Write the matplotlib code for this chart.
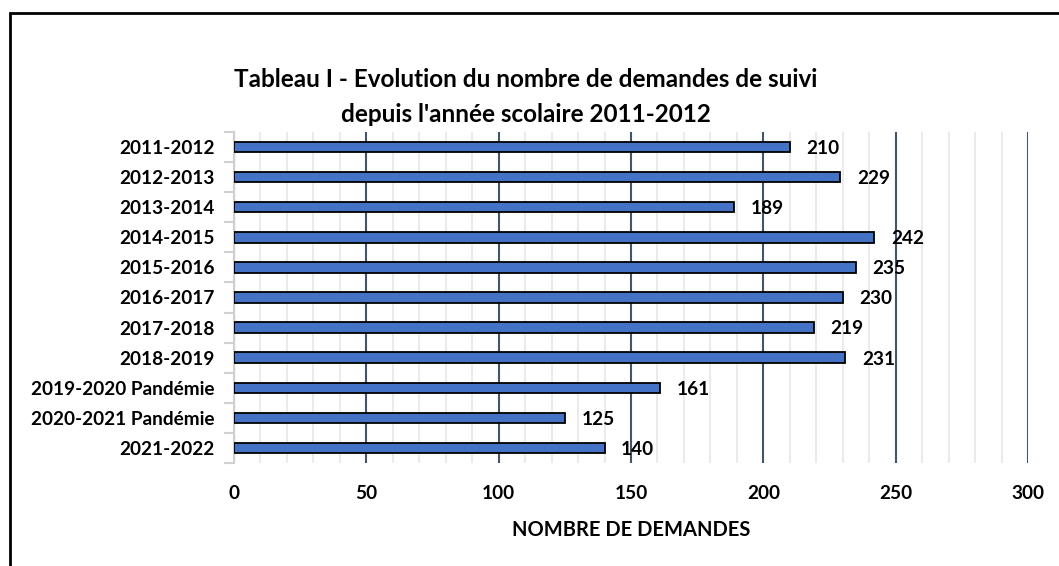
import matplotlib
matplotlib.use("Agg")
import matplotlib.pyplot as plt
from matplotlib.ticker import MultipleLocator
from matplotlib.patches import Rectangle

plt.rcParams['font.family'] = ['Lato', 'DejaVu Sans']

categories = ["2011-2012", "2012-2013", "2013-2014", "2014-2015", "2015-2016",
              "2016-2017", "2017-2018", "2018-2019", "2019-2020 Pandémie",
              "2020-2021 Pandémie", "2021-2022"]
values = [210, 229, 189, 242, 235, 230, 219, 231, 161, 125, 140]
title = "Tableau I - Evolution du nombre de demandes de suivi\ndepuis l'année scolaire 2011-2012"
xlabel = "NOMBRE DE DEMANDES"

FS = 13.7
W, H = 1059, 566
fig = plt.figure(figsize=(W / 100, H / 100), dpi=100)
ax = fig.add_axes([234 / W, 1 - 463 / H, (1028 - 234) / W, (463 - 132) / H])

y = list(range(len(categories)))
ax.barh(y, values, height=0.35, color="#4472C4", edgecolor="black", linewidth=1.3, zorder=3)
ax.set_ylim(10.5, -0.5)
ax.set_xlim(0, 300)
ax.set_yticks(y)
ax.set_yticklabels(categories, fontsize=FS, fontweight="bold")

ax.xaxis.set_major_locator(MultipleLocator(50))
ax.xaxis.set_minor_locator(MultipleLocator(10))
ax.grid(axis="x", which="major", color="#44546A", linewidth=1.5, zorder=1)
ax.grid(axis="x", which="minor", color="#EBEBEB", linewidth=1.5, zorder=0)
ax.tick_params(axis="x", which="both", length=0, labelsize=FS, pad=16)
for lab in ax.get_xticklabels():
    lab.set_fontweight("bold")
ax.set_yticks([i + 0.5 for i in range(-1, len(categories))], minor=True)
ax.tick_params(axis="y", which="minor", length=7, color="#D0D0D0", width=1.5)
ax.tick_params(axis="y", which="major", length=0, pad=14)

for s in ["top", "right", "bottom"]:
    ax.spines[s].set_visible(False)
ax.spines["left"].set_color("#D0D0D0")
ax.spines["left"].set_linewidth(1.5)

for yi, v in zip(y, values):
    ax.annotate(str(v), xy=(v, yi), xytext=(12, -1), textcoords="offset points",
                ha="left", va="center", fontsize=FS, fontweight="bold")

ax.set_xlabel(xlabel, fontsize=14.5, fontweight="bold", labelpad=13)

fig.text(526 / W, 1 - 97 / H, title, ha="center", va="center", fontsize=17.5,
         fontweight="bold", linespacing=1.66)

fig.patches.append(Rectangle((10 / W, -0.05), 1.2, 1 - 13 / H + 0.05, transform=fig.transFigure,
                             fill=False, edgecolor="black", linewidth=2, zorder=10))

fig.savefig("out.png", dpi=100)
